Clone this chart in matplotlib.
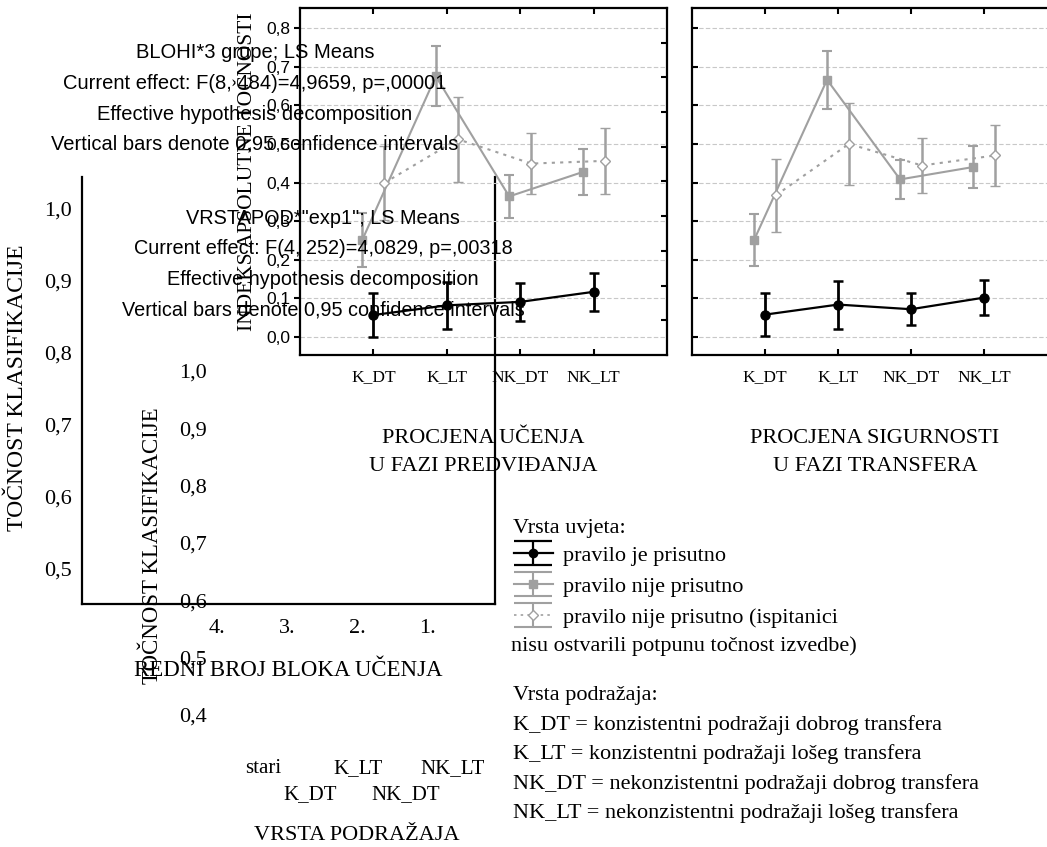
import numpy as np
import matplotlib as mpl
mpl.use('Agg')
import matplotlib.pyplot as plt
from matplotlib.legend_handler import HandlerErrorbar

SERIF = 'Liberation Serif'
SANS = 'Liberation Sans'

# data
cats = ["K_DT", "K_LT", "NK_DT", "NK_LT"]
# procjena ucenja u fazi predvidanja
pred_prisutno = [0.057, 0.082, 0.091, 0.117]
pred_prisutno_ci = [0.058, 0.060, 0.050, 0.050]
pred_nije = [0.252, 0.675, 0.364, 0.427]
pred_nije_ci = [0.070, 0.078, 0.055, 0.060]
pred_nepotpuno = [0.399, 0.512, 0.449, 0.456]
pred_nepotpuno_ci = [0.095, 0.110, 0.078, 0.085]
# procjena sigurnosti u fazi transfera
trans_prisutno = [0.058, 0.084, 0.072, 0.102]
trans_prisutno_ci = [0.055, 0.062, 0.041, 0.045]
trans_nije = [0.251, 0.666, 0.408, 0.440]
trans_nije_ci = [0.067, 0.075, 0.050, 0.055]
trans_nepotpuno = [0.367, 0.500, 0.444, 0.470]
trans_nepotpuno_ci = [0.095, 0.107, 0.072, 0.078]

indeks_ticks = [0.0, 0.1, 0.2, 0.3, 0.4, 0.5, 0.6, 0.7, 0.8]
blok_labels = ["4.", "3.", "2.", "1."]
tocnost_ticks = [0.5, 0.6, 0.7, 0.8, 0.9, 1.0]
tocnost2_ticks = [0.4, 0.5, 0.6, 0.7, 0.8, 0.9, 1.0]
podrazaj_labels = ["stari", "K_DT", "K_LT", "NK_DT", "NK_LT"]

legend_labels = ["pravilo je prisutno", "pravilo nije prisutno",
                 "pravilo nije prisutno (ispitanici"]
podrazaj_opis = ["Vrsta podražaja:",
                 "K_DT = konzistentni podražaji dobrog transfera",
                 "K_LT = konzistentni podražaji lošeg transfera",
                 "NK_DT = nekonzistentni podražaji dobrog transfera",
                 "NK_LT = nekonzistentni podražaji lošeg transfera"]

W, H = 1047, 847
GRAY = '#a0a0a0'


def box(x0, y0, x1, y1):
    return [x0 / W, 1 - y1 / H, (x1 - x0) / W, (y1 - y0) / H]


def fx(x):
    return x / W


def fy(y):
    return 1 - y / H


def comma(v):
    return f"{v:.1f}".replace('.', ',')


fig = plt.figure(figsize=(W / 100, H / 100), dpi=100)

# background chart 1 (tocnost klasifikacije / blok ucenja)
bg1 = fig.add_axes(box(82, 177, 495, 604))
bg1.set_facecolor('none')
bg1.set_xlim(-1.929, 3.971)
bg1.set_ylim(0.4507, 1.0437)
bg1.spines['top'].set_visible(False)
for s in bg1.spines.values():
    s.set_linewidth(1.6)
bg1.set_xticks(range(len(blok_labels)))
bg1.set_xticklabels(blok_labels, fontfamily=SERIF, fontsize=16)
bg1.set_yticks(tocnost_ticks)
bg1.set_yticklabels([comma(v) for v in tocnost_ticks], fontfamily=SERIF, fontsize=16)
bg1.tick_params(length=0)
bg1.tick_params(axis='y', pad=7)
bg1.tick_params(axis='x', pad=11)
fig.text(fx(18), fy(388), "TOČNOST KLASIFIKACIJE", rotation=90, ha='center', va='center',
         fontfamily=SERIF, fontsize=17)
fig.text(fx(288), fy(670), "REDNI BROJ BLOKA UČENJA", ha='center', va='center',
         fontfamily=SERIF, fontsize=16.5)

# background chart 2 (tocnost klasifikacije / vrsta podrazaja)
bg2 = fig.add_axes(box(215, 350, 480, 740))
bg2.set_facecolor('none')
for s in bg2.spines.values():
    s.set_visible(False)
bg2.set_xlim(-1.01, 4.57)
bg2.set_ylim(0.3564, 1.0366)
bg2.set_xticks(range(len(podrazaj_labels)))
bg2.set_xticklabels([l if i % 2 == 0 else "\n" + l for i, l in enumerate(podrazaj_labels)],
                    fontfamily=SERIF, fontsize=15)
for t in bg2.get_xticklabels():
    t.set_linespacing(1.45)
bg2.set_yticks(tocnost2_ticks)
bg2.set_yticklabels([comma(v) for v in tocnost2_ticks], fontfamily=SERIF, fontsize=16)
bg2.tick_params(length=0)
bg2.tick_params(axis='y', pad=6)
bg2.tick_params(axis='x', pad=14)
fig.text(fx(152), fy(546), "TOČNOST KLASIFIKACIJE", rotation=90, ha='center', va='center',
         fontfamily=SERIF, fontsize=16.5)
fig.text(fx(357), fy(835), "VRSTA PODRAŽAJA", ha='center', va='center',
         fontfamily=SERIF, fontsize=16)


def panel(ax, prisutno, prisutno_ci, nije, nije_ci, nepot, nepot_ci):
    x = np.arange(1, len(cats) + 1)
    ax.set_facecolor('none')
    ax.set_xlim(0, 5)
    ax.set_ylim(-0.0465, 0.8517)
    ax.set_yticks(indeks_ticks)
    ax.yaxis.grid(True, color='#c8c8c8', linestyle=(0, (4, 2)), linewidth=0.8)
    ax.set_axisbelow(True)
    ax.errorbar(x - 0.15, nije, yerr=nije_ci, color=GRAY, marker='s', markersize=6,
                linewidth=1.5, capsize=3.5, elinewidth=1.8, capthick=1.5)
    ax.errorbar(x + 0.15, nepot, yerr=nepot_ci, color=GRAY, marker='D', markersize=5,
                markerfacecolor='white', markeredgecolor=GRAY, markeredgewidth=1,
                linestyle=(0, (1.5, 2.5)), linewidth=1.5, capsize=3.5, elinewidth=1.8, capthick=1.5)
    ax.errorbar(x, prisutno, yerr=prisutno_ci, color='black', marker='o', markersize=6.5,
                linewidth=1.6, capsize=3.5, elinewidth=2, capthick=1.8)
    ax.set_xticks(x)
    ax.set_xticklabels(cats, fontfamily=SERIF, fontsize=12.5)
    ax.tick_params(axis='x', direction='in', top=True, length=4, width=1.5, pad=10)
    for s in ax.spines.values():
        s.set_linewidth(1.6)


ax1 = fig.add_axes(box(300, 8, 667, 355))
panel(ax1, pred_prisutno, pred_prisutno_ci, pred_nije, pred_nije_ci,
      pred_nepotpuno, pred_nepotpuno_ci)
ax1.set_yticklabels([comma(v) for v in indeks_ticks], fontfamily=SANS, fontsize=12.5)
ax1.tick_params(axis='y', direction='out', length=4, width=1.5, pad=3)
tw = ax1.twinx()
tw.set_ylim(0, 10)
tw.set_yticks(range(1, 10))
tw.tick_params(axis='y', direction='in', length=4, width=1.5, labelright=False)
for s in tw.spines.values():
    s.set_visible(False)
fig.text(fx(247), fy(172), "INDEKS APSOLUTNE TOČNOSTI", rotation=90, ha='center', va='center',
         fontfamily=SERIF, fontsize=15.5)

ax2 = fig.add_axes(box(692, 8, 1057, 355))
panel(ax2, trans_prisutno, trans_prisutno_ci, trans_nije, trans_nije_ci,
      trans_nepotpuno, trans_nepotpuno_ci)
ax2.tick_params(axis='y', direction='in', length=4, width=1.5, labelleft=False)

fig.text(fx(483), fy(438), "PROCJENA UČENJA", ha='center', va='center', fontfamily=SERIF, fontsize=16)
fig.text(fx(483), fy(466), "U FAZI PREDVIĐANJA", ha='center', va='center', fontfamily=SERIF, fontsize=16)
fig.text(fx(875), fy(438), "PROCJENA SIGURNOSTI", ha='center', va='center', fontfamily=SERIF, fontsize=16)
fig.text(fx(875), fy(466), "U FAZI TRANSFERA", ha='center', va='center', fontfamily=SERIF, fontsize=16)

# statistica annotations
ann1 = ["BLOHI*3 grupe; LS Means",
        "Current effect: F(8, 484)=4,9659, p=,00001",
        "Effective hypothesis decomposition",
        "Vertical bars denote 0,95 confidence intervals"]
ann2 = ["VRSTAPOD*\"exp1\"; LS Means",
        "Current effect: F(4, 252)=4,0829, p=,00318",
        "Effective hypothesis decomposition",
        "Vertical bars denote 0,95 confidence intervals"]
for i, t in enumerate(ann1):
    fig.text(fx(255), fy(53 + i * 30.5), t, ha='center', va='center', fontfamily=SANS, fontsize=14.5)
for i, t in enumerate(ann2):
    fig.text(fx(323), fy(218 + i * 30.7), t, ha='center', va='center', fontfamily=SANS, fontsize=14.3)

# legend (proxy errorbars drawn off the canvas)
fig.text(fx(513), fy(528), "Vrsta uvjeta:", ha='left', va='center', fontfamily=SERIF, fontsize=16)
hax = fig.add_axes([-0.5, -0.5, 0.01, 0.01])
hax.set_axis_off()
h1 = hax.errorbar([0], [0], yerr=[1], color='black', marker='o', markersize=6, linewidth=1.6,
                  capsize=14, elinewidth=1.6, capthick=1.6)
h2 = hax.errorbar([0], [0], yerr=[1], color=GRAY, marker='s', markersize=6, linewidth=1.5,
                  capsize=14, elinewidth=1.5, capthick=1.5)
h3 = hax.errorbar([0], [0], yerr=[1], color=GRAY, marker='D', markersize=5, markerfacecolor='white',
                  linestyle=(0, (1.5, 2.5)), linewidth=1.2, capsize=14, elinewidth=1.5, capthick=1.5)
leg = fig.legend([h1, h2, h3], legend_labels, loc='upper left',
                 bbox_to_anchor=(fx(514), fy(545)), frameon=False, borderpad=0, borderaxespad=0,
                 handlelength=1.75, handletextpad=0.45, labelspacing=0.47,
                 handler_map={type(h1): HandlerErrorbar(xerr_size=0.5, yerr_size=0.55)},
                 prop={'family': SERIF, 'size': 16})
fig.text(fx(511), fy(646), "nisu ostvarili potpunu točnost izvedbe)", ha='left', va='center',
         fontfamily=SERIF, fontsize=16)
for i, t in enumerate(podrazaj_opis):
    fig.text(fx(513), fy(695 + i * 29.6), t, ha='left', va='center', fontfamily=SERIF, fontsize=16)

plt.savefig("out.png", dpi=100)
